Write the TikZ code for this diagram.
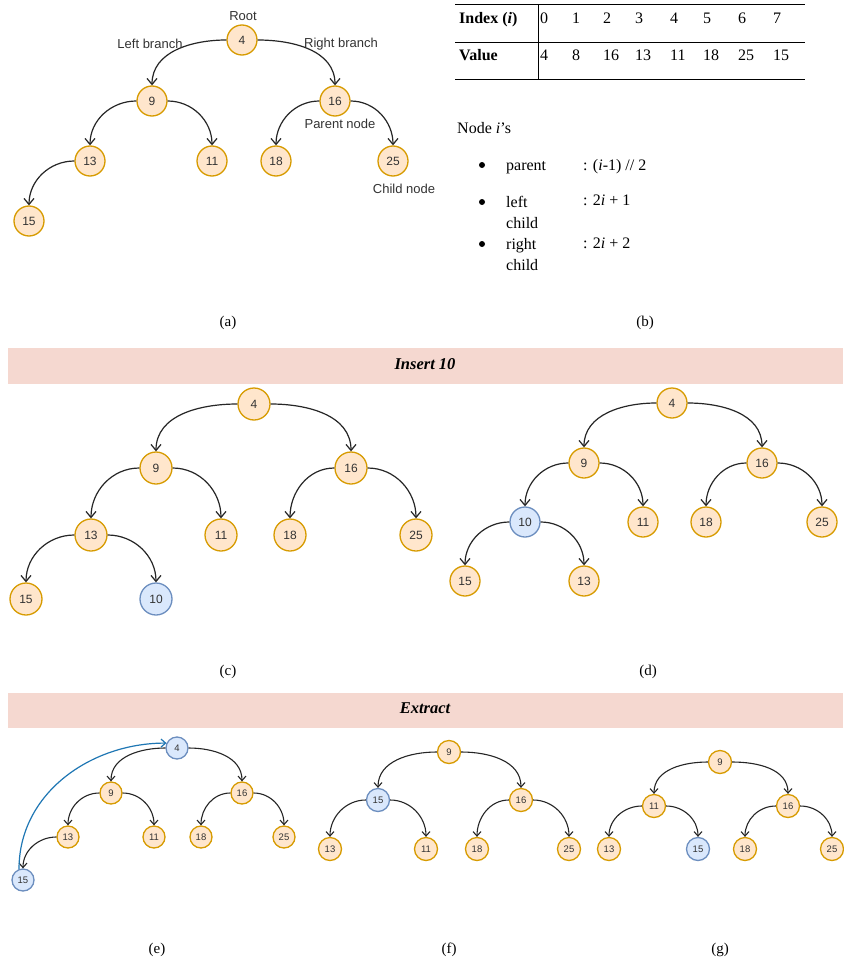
\documentclass[tikz,border=0pt]{standalone}
\usepackage{fontspec}
\setmainfont{Liberation Serif}
\newfontfamily\arialf{Liberation Sans}
\usetikzlibrary{arrows.meta}
\definecolor{nfill}{HTML}{FFE6CC}
\definecolor{ndraw}{HTML}{D79B00}
\definecolor{bfill}{HTML}{DAE8FC}
\definecolor{bdraw}{HTML}{6C8EBF}
\definecolor{barpink}{RGB}{245,216,208}
\definecolor{txt}{HTML}{333333}
\definecolor{bluearrow}{RGB}{31,119,180}
\tikzset{
  hnode/.style={circle, draw=ndraw, fill=nfill, line width=1.3pt, inner sep=0pt, text=txt},
  hblue/.style={hnode, draw=bdraw, fill=bfill},
  sza/.style={minimum size=30pt, font=\arialf\fontsize{12}{12}\selectfont},
  szc/.style={minimum size=32pt, font=\arialf\fontsize{12}{12}\selectfont},
  szd/.style={minimum size=30pt, font=\arialf\fontsize{12}{12}\selectfont},
  sze/.style={minimum size=22pt, font=\arialf\fontsize{9.5}{9.5}\selectfont},
  szf/.style={minimum size=23pt, font=\arialf\fontsize{9.5}{9.5}\selectfont},
  edgebig/.style={draw=black!85, line width=1.2pt, -{Straight Barb[length=6pt,width=10pt]}},
  edgesmall/.style={draw=black!85, line width=1.1pt, -{Straight Barb[length=4.5pt,width=8pt]}},
  lbl/.style={font=\arialf\fontsize{13}{13}\selectfont, text=txt, inner sep=0pt},
  captxt/.style={font=\fontsize{15}{15}\selectfont, inner sep=0pt},
  tbl/.style={font=\fontsize{16}{16}\selectfont, inner sep=0pt, anchor=base west},
  bulletdot/.style={circle, fill=black, inner sep=0pt, minimum size=6pt},
  bartitle/.style={font=\fontsize{16.5}{16.5}\selectfont\bfseries\itshape, inner sep=0pt},
}
\begin{document}
\begin{tikzpicture}[x=1pt,y=-1pt]
\useasboundingbox (0,0) rectangle (843,963);
\fill[white] (0,0) rectangle (843,963);

% ---------------- (a) ----------------
\node[hnode,sza] (a4) at (242,40) {4};
\node[hnode,sza] (a9) at (152,101) {9};
\node[hnode,sza] (a16) at (335,101) {16};
\node[hnode,sza] (a13) at (90,161) {13};
\node[hnode,sza] (a11) at (212,161) {11};
\node[hnode,sza] (a18) at (276,161) {18};
\node[hnode,sza] (a25) at (393,161) {25};
\node[hnode,sza] (a15) at (29,221) {15};
\draw[edgebig] (a4.west) to[out=180,in=90] (a9.north);
\draw[edgebig] (a4.east) to[out=0,in=90] (a16.north);
\draw[edgebig] (a9.west) to[out=180,in=90] (a13.north);
\draw[edgebig] (a9.east) to[out=0,in=90] (a11.north);
\draw[edgebig] (a16.west) to[out=180,in=90] (a18.north);
\draw[edgebig] (a16.east) to[out=0,in=90] (a25.north);
\draw[edgebig] (a13.west) to[out=180,in=90] (a15.north);
\node[lbl] (lroot) at (243,16) {Root};
\node[lbl] (lleft) at (150,44) {Left branch};
\node[lbl] (lright) at (341,44) {Right branch};
\node[lbl] (lparent) at (340,124) {Parent node};
\node[lbl] (lchild) at (404,189) {Child node};
\node[captxt] (capa) at (228,323) {(a)};

% ---------------- (b) ----------------
\draw[line width=1pt] (455,5) -- (805,5);
\draw[line width=1pt] (455,43) -- (805,43);
\draw[line width=1pt] (455,80) -- (805,80);
\draw[line width=1pt] (538,5) -- (538,80);
\node[tbl] (hidx) at (459,24) {\textbf{Index (\textit{i})}};
\node[tbl] (hval) at (459,61) {\textbf{Value}};
\foreach \x/\i/\v in {540/0/4, 572/1/8, 603/2/16, 635/3/13, 670/4/11, 703/5/18, 738/6/25, 773/7/15} {
  \node[tbl] (ix\i) at (\x,24) {\i};
  \node[tbl] (vx\i) at (\x,61) {\v};
}
\node[tbl] (nodei) at (457,133) {Node \textit{i}’s};
\node[bulletdot] (b1) at (482,165) {};
\node[bulletdot] (b2) at (482,202) {};
\node[bulletdot] (b3) at (482,244) {};
\node[tbl] (tpar) at (506,170) {parent};
\node[tbl] (tleft) at (506,207) {left};
\node[tbl] (tlc) at (506,228) {child};
\node[tbl] (tright) at (506,249) {right};
\node[tbl] (trc) at (506,270) {child};
\node[tbl] (fpar) at (583,170) {: (\textit{i}-1) // 2};
\node[tbl] (fleft) at (583,205) {: 2\textit{i} + 1};
\node[tbl] (fright) at (583,248) {: 2\textit{i} + 2};
\node[captxt] (capb) at (645,323) {(b)};

% ---------------- Insert bar ----------------
\fill[barpink] (8,348) rectangle (843,384);
\node[bartitle] (tins) at (425,364) {Insert 10};

% ---------------- (c) ----------------
\node[hnode,szc] (c4) at (254,404) {4};
\node[hnode,szc] (c9) at (156,468) {9};
\node[hnode,szc] (c16) at (351,468) {16};
\node[hnode,szc] (c13) at (91,535) {13};
\node[hnode,szc] (c11) at (221,535) {11};
\node[hnode,szc] (c18) at (290,535) {18};
\node[hnode,szc] (c25) at (416,535) {25};
\node[hnode,szc] (c15) at (26,599) {15};
\node[hblue,szc] (c10) at (156,599) {10};
\draw[edgebig] (c4.west) to[out=180,in=90] (c9.north);
\draw[edgebig] (c4.east) to[out=0,in=90] (c16.north);
\draw[edgebig] (c9.west) to[out=180,in=90] (c13.north);
\draw[edgebig] (c9.east) to[out=0,in=90] (c11.north);
\draw[edgebig] (c16.west) to[out=180,in=90] (c18.north);
\draw[edgebig] (c16.east) to[out=0,in=90] (c25.north);
\draw[edgebig] (c13.west) to[out=180,in=90] (c15.north);
\draw[edgebig] (c13.east) to[out=0,in=90] (c10.north);
\node[captxt] (capc) at (228,672) {(c)};

% ---------------- (d) ----------------
\node[hnode,szd] (d4) at (672,403) {4};
\node[hnode,szd] (d9) at (584,463) {9};
\node[hnode,szd] (d16) at (762,463) {16};
\node[hblue,szd] (d10) at (525,522) {10};
\node[hnode,szd] (d11) at (643,522) {11};
\node[hnode,szd] (d18) at (706,522) {18};
\node[hnode,szd] (d25) at (822,522) {25};
\node[hnode,szd] (d15) at (465,581) {15};
\node[hnode,szd] (d13) at (584,581) {13};
\draw[edgebig] (d4.west) to[out=180,in=90] (d9.north);
\draw[edgebig] (d4.east) to[out=0,in=90] (d16.north);
\draw[edgebig] (d9.west) to[out=180,in=90] (d10.north);
\draw[edgebig] (d9.east) to[out=0,in=90] (d11.north);
\draw[edgebig] (d16.west) to[out=180,in=90] (d18.north);
\draw[edgebig] (d16.east) to[out=0,in=90] (d25.north);
\draw[edgebig] (d10.west) to[out=180,in=90] (d15.north);
\draw[edgebig] (d10.east) to[out=0,in=90] (d13.north);
\node[captxt] (capd) at (648,672) {(d)};

% ---------------- Extract bar ----------------
\fill[barpink] (8,693) rectangle (843,728);
\node[bartitle] (text) at (425,708) {Extract};

% ---------------- (e) ----------------
\node[hblue,sze] (e4) at (177,748) {4};
\node[hnode,sze] (e9) at (111,793) {9};
\node[hnode,sze] (e16) at (242,793) {16};
\node[hnode,sze] (e13) at (68,837) {13};
\node[hnode,sze] (e11) at (154,837) {11};
\node[hnode,sze] (e18) at (201,837) {18};
\node[hnode,sze] (e25) at (284,837) {25};
\node[hblue,sze] (e15) at (23,880) {15};
\draw[edgesmall] (e4.west) to[out=180,in=90] (e9.north);
\draw[edgesmall] (e4.east) to[out=0,in=90] (e16.north);
\draw[edgesmall] (e9.west) to[out=180,in=90] (e13.north);
\draw[edgesmall] (e9.east) to[out=0,in=90] (e11.north);
\draw[edgesmall] (e16.west) to[out=180,in=90] (e18.north);
\draw[edgesmall] (e16.east) to[out=0,in=90] (e25.north);
\draw[edgesmall] (e13.west) to[out=180,in=90] (e15.north);
\draw[draw=bluearrow, line width=1.2pt, -{Straight Barb[length=4.5pt,width=8pt]}]
  (e15.110) to[out=90,in=180] (e4.155);
\node[captxt] (cape) at (157,950) {(e)};

% ---------------- (f) ----------------
\node[hnode,szf] (f9) at (449,752) {9};
\node[hblue,szf] (f15) at (378,800) {15};
\node[hnode,szf] (f16) at (521,800) {16};
\node[hnode,szf] (f13) at (330,849) {13};
\node[hnode,szf] (f11) at (426,849) {11};
\node[hnode,szf] (f18) at (477,849) {18};
\node[hnode,szf] (f25) at (569,849) {25};
\draw[edgesmall] (f9.west) to[out=180,in=90] (f15.north);
\draw[edgesmall] (f9.east) to[out=0,in=90] (f16.north);
\draw[edgesmall] (f15.west) to[out=180,in=90] (f13.north);
\draw[edgesmall] (f15.east) to[out=0,in=90] (f11.north);
\draw[edgesmall] (f16.west) to[out=180,in=90] (f18.north);
\draw[edgesmall] (f16.east) to[out=0,in=90] (f25.north);
\node[captxt] (capf) at (449,950) {(f)};

% ---------------- (g) ----------------
\node[hnode,szf] (g9) at (720,762) {9};
\node[hnode,szf] (g11) at (654,806) {11};
\node[hnode,szf] (g16) at (788,806) {16};
\node[hnode,szf] (g13) at (609,849) {13};
\node[hblue,szf] (g15) at (698,849) {15};
\node[hnode,szf] (g18) at (745,849) {18};
\node[hnode,szf] (g25) at (832,849) {25};
\draw[edgesmall] (g9.west) to[out=180,in=90] (g11.north);
\draw[edgesmall] (g9.east) to[out=0,in=90] (g16.north);
\draw[edgesmall] (g11.west) to[out=180,in=90] (g13.north);
\draw[edgesmall] (g11.east) to[out=0,in=90] (g15.north);
\draw[edgesmall] (g16.west) to[out=180,in=90] (g18.north);
\draw[edgesmall] (g16.east) to[out=0,in=90] (g25.north);
\node[captxt] (capg) at (720,950) {(g)};
\end{tikzpicture}
\end{document}
